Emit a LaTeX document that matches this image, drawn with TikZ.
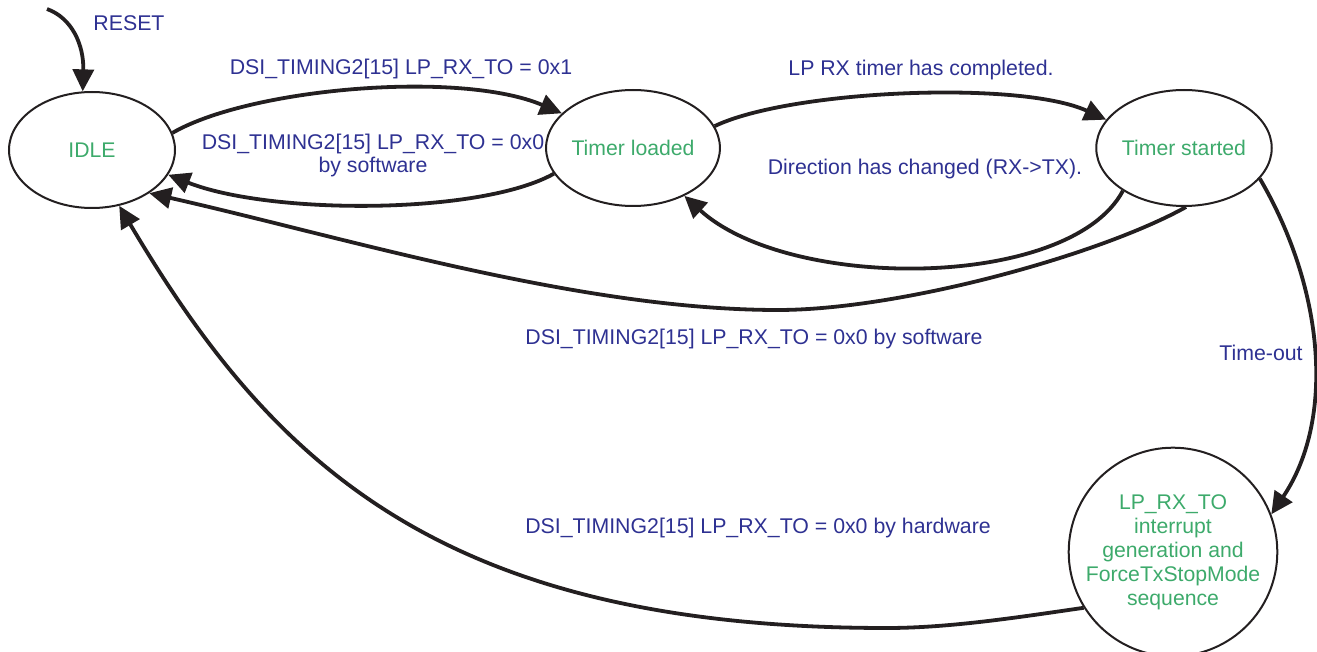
\documentclass[tikz,border=0pt]{standalone}
\usepackage{fontspec}
\setmainfont{Liberation Sans}
\usepackage{tikz}
\usetikzlibrary{arrows.meta,shapes.geometric}
\definecolor{lbl}{HTML}{2E3192}
\definecolor{stt}{HTML}{3DAA6B}
\definecolor{ink}{HTML}{231F20}

\begin{document}
\begin{tikzpicture}[x=1pt,y=-1pt,
  state/.style={ellipse,draw=ink,line width=2pt,minimum width=166pt,minimum height=116pt,
    inner sep=0pt,text=stt,font=\fontsize{21.2}{24}\selectfont},
  trans/.style={draw=ink,line width=3.8pt,-{Triangle[length=22pt,width=21pt]}},
  lab/.style={text=lbl,anchor=base,inner sep=0pt,font=\fontsize{21.3}{24}\selectfont}]
\useasboundingbox (0,0) rectangle (1317,652);
% states
\node[state] (idle) at (92,150) {IDLE};
\node[state] (load) at (633,148) {Timer loaded};
\node[state] (start) at (1184,148) {Timer started};
\node[state,circle,minimum size=200pt,align=center] (lp) at (1173,552)
  {LP\_RX\_TO\\interrupt\\generation and\\ForceTxStopMode\\sequence};
\coordinate (rst) at (47,9);
% transitions
\draw[trans] (rst) .. controls (72,18) and (84,45) .. (idle.99);
\draw[trans] (idle.12) .. controls (250,88) and (460,70) .. (load.154);
\draw[trans] (load.198) .. controls (480,215) and (270,215) .. (idle.342);
\draw[trans] (load.15) .. controls (790,90) and (1020,80) .. (start.160);
\draw[trans] (start.215) .. controls (1070,290) and (790,292) .. (load.317);
\draw[trans] (start.272) .. controls (1100,255) and (900,310) .. (778,310)
  .. controls (580,310) and (343,237) .. (idle.323);
\draw[trans] (start.338) .. controls (1325,290) and (1335,420) .. (lp.21);
\draw[trans] (lp.212) .. controls (1020,617) and (950,628) .. (887,628)
  .. controls (437,628) and (270,460) .. (idle.296);
% labels
\node[lab] (l-reset) at (129,31) {RESET};
\node[lab] (l-set) at (401,75) {DSI\_TIMING2[15] LP\_RX\_TO = 0x1};
\node[lab] (l-clr) at (373,150) {DSI\_TIMING2[15] LP\_RX\_TO = 0x0};
\node[lab] (l-clr2) at (373,173) {by software};
\node[lab] (l-done) at (921,76) {LP RX timer has completed.};
\node[lab] (l-dir) at (925,175) {Direction has changed (RX->TX).};
\node[lab] (l-sw) at (754,344) {DSI\_TIMING2[15] LP\_RX\_TO = 0x0 by software};
\node[lab] (l-to) at (1261,360) {Time-out};
\node[lab] (l-hw) at (758,533) {DSI\_TIMING2[15] LP\_RX\_TO = 0x0 by hardware};
\end{tikzpicture}
\end{document}
